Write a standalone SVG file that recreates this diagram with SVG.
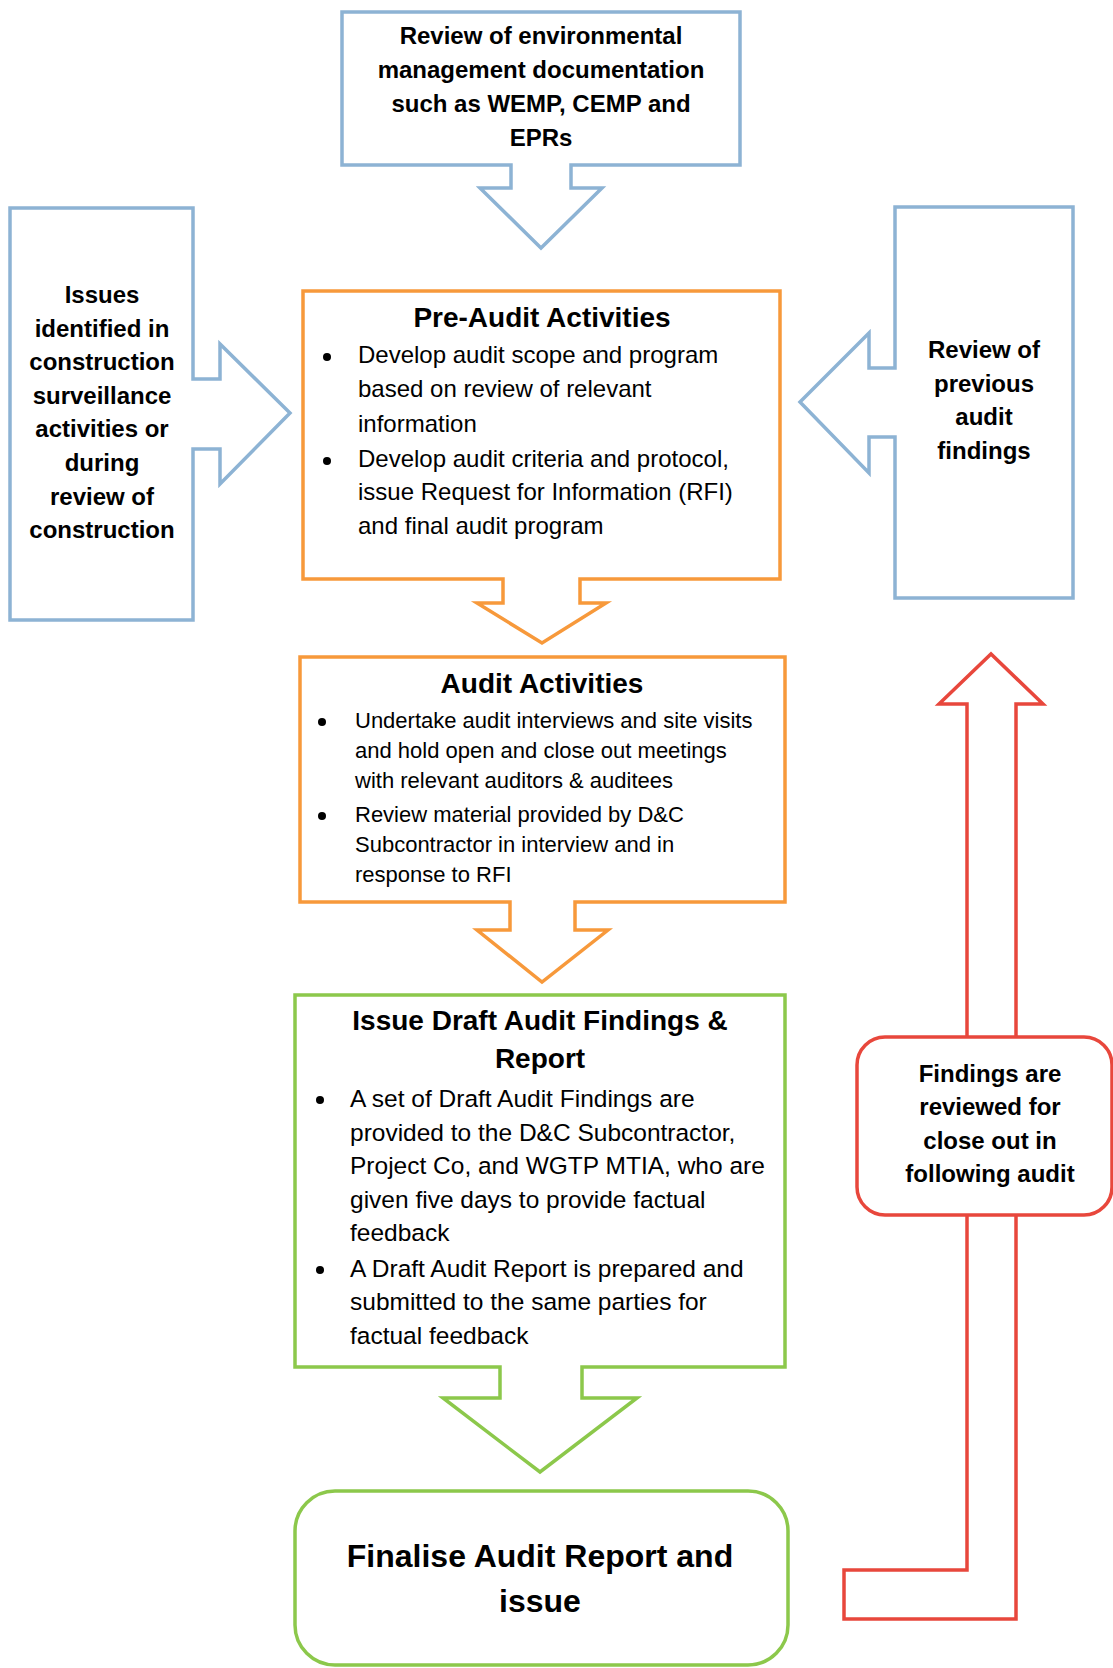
<svg xmlns="http://www.w3.org/2000/svg" width="1113" height="1668" viewBox="0 0 1113 1668">
<style>
.blue{fill:#fff;stroke:#8db3d4;stroke-width:3.5;stroke-linejoin:miter}
.orange{fill:#fff;stroke:#f7993b;stroke-width:3.5}
.green{fill:#fff;stroke:#8cc84b;stroke-width:3.5}
.red{fill:#fff;stroke:#e8473c;stroke-width:3.5}
text{font-family:"Liberation Sans",Arial,sans-serif;fill:#000}
.lb{font-size:24px;font-weight:bold;text-anchor:middle}
.ttl{font-size:28px;font-weight:bold;text-anchor:middle}
.body{font-size:24px}
.body2{font-size:22px}
.body3{font-size:24.5px}
.dot{fill:#000}
.fin{font-size:32px;font-weight:bold;text-anchor:middle}
</style>
<rect width="1113" height="1668" fill="#fff"/>
<g id="connectors">
<path id="loop-arrow" class="red" d="M844,1619 H1016 V704 H1043 L991,654 L939,704 H967 V1570 H844 Z"/>
</g>
<g id="env-docs">
<path class="blue" d="M342,12 H740 V165 H571 V188 H602 L541,248 L480,188 H511 V165 H342 Z"/>
<text class="lb" x="541" y="44">Review of environmental</text>
<text class="lb" x="541" y="78">management documentation</text>
<text class="lb" x="541" y="112">such as WEMP, CEMP and</text>
<text class="lb" x="541" y="146">EPRs</text>
</g>
<g id="issues-identified">
<path class="blue" d="M10,208 H193 V379 H220 V344 L290,413 L220,484 V449 H193 V620 H10 Z"/>
<text class="lb" x="102" y="303">Issues</text>
<text class="lb" x="102" y="337">identified in</text>
<text class="lb" x="102" y="370">construction</text>
<text class="lb" x="102" y="404">surveillance</text>
<text class="lb" x="102" y="437">activities or</text>
<text class="lb" x="102" y="471">during</text>
<text class="lb" x="102" y="505">review of</text>
<text class="lb" x="102" y="538">construction</text>
</g>
<g id="previous-findings">
<path class="blue" d="M895,207 H1073 V598 H895 V437 H869 V473 L800,402 L869,333 V368 H895 Z"/>
<text class="lb" x="984" y="358">Review of</text>
<text class="lb" x="984" y="392">previous</text>
<text class="lb" x="984" y="425">audit</text>
<text class="lb" x="984" y="459">findings</text>
</g>
<g id="pre-audit">
<path class="orange" d="M303,291 H780 V579 H580 V603 H606 L542,643 L477,603 H503 V579 H303 Z"/>
<text class="ttl" x="542" y="327">Pre-Audit Activities</text>
<circle class="dot" cx="327" cy="357" r="4"/>
<circle class="dot" cx="327" cy="461" r="4"/>
<g class="body">
<text x="358" y="363">Develop audit scope and program</text>
<text x="358" y="397">based on review of relevant</text>
<text x="358" y="432">information</text>
<text x="358" y="467">Develop audit criteria and protocol,</text>
<text x="358" y="500">issue Request for Information (RFI)</text>
<text x="358" y="534">and final audit program</text>
</g>
</g>
<g id="audit-activities">
<path class="orange" d="M300,657 H785 V902 H575 V930 H608 L542,982 L477,930 H510 V902 H300 Z"/>
<text class="ttl" x="542" y="693">Audit Activities</text>
<circle class="dot" cx="322" cy="722" r="4"/>
<circle class="dot" cx="322" cy="816" r="4"/>
<g class="body2">
<text x="355" y="728">Undertake audit interviews and site visits</text>
<text x="355" y="758">and hold open and close out meetings</text>
<text x="355" y="788">with relevant auditors &amp; auditees</text>
<text x="355" y="822">Review material provided by D&amp;C</text>
<text x="355" y="852">Subcontractor in interview and in</text>
<text x="355" y="882">response to RFI</text>
</g>
</g>
<g id="draft-findings">
<path class="green" d="M295,995 H785 V1367 H582 V1398 H637 L540,1472 L443,1398 H500 V1367 H295 Z"/>
<text class="ttl" x="540" y="1030">Issue Draft Audit Findings &amp;</text>
<text class="ttl" x="540" y="1068">Report</text>
<circle class="dot" cx="320" cy="1100" r="4"/>
<circle class="dot" cx="320" cy="1270" r="4"/>
<g class="body3">
<text x="350" y="1107">A set of Draft Audit Findings are</text>
<text x="350" y="1141">provided to the D&amp;C Subcontractor,</text>
<text x="350" y="1174">Project Co, and WGTP MTIA, who are</text>
<text x="350" y="1208">given five days to provide factual</text>
<text x="350" y="1241">feedback</text>
<text x="350" y="1277">A Draft Audit Report is prepared and</text>
<text x="350" y="1310">submitted to the same parties for</text>
<text x="350" y="1344">factual feedback</text>
</g>
</g>
<g id="finalise">
<rect class="green" x="295" y="1491" width="493" height="174" rx="40" ry="40"/>
<text class="fin" x="540" y="1567">Finalise Audit Report and</text>
<text class="fin" x="540" y="1612">issue</text>
</g>
<g id="findings-reviewed">
<rect class="red" x="857" y="1037" width="255" height="178" rx="28" ry="28"/>
<text class="lb" x="990" y="1082">Findings are</text>
<text class="lb" x="990" y="1115">reviewed for</text>
<text class="lb" x="990" y="1149">close out in</text>
<text class="lb" x="990" y="1182">following audit</text>
</g>
</svg>
